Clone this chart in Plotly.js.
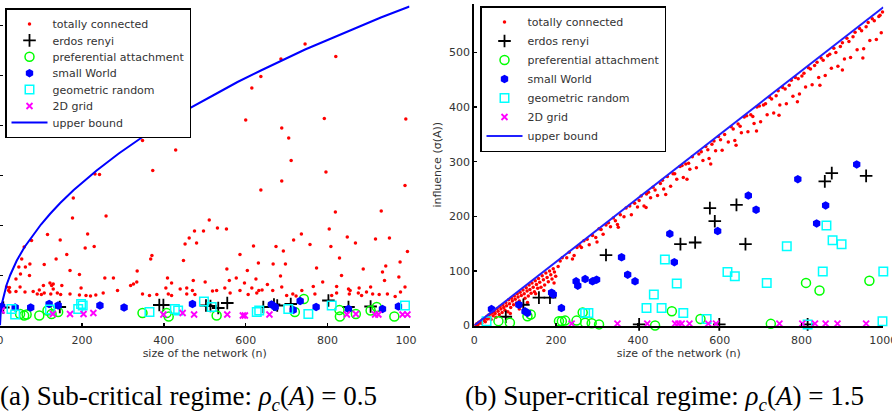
<!DOCTYPE html>
<html>
<head>
<meta charset="utf-8">
<script src="https://cdn.plot.ly/plotly-3.0.1.min.js"></script>
<style>
  html, body { margin: 0; padding: 0; background: #fff; overflow: hidden; }
  #fig { width: 892px; height: 413px; }
</style>
</head>
<body>
<div id="fig"></div>
<script>
// ---------- data ----------
const seriesNames = ['totally connected', 'erdos renyi', 'preferential attachment',
                     'small World', 'geometric random', '2D grid', 'upper bound'];
const xTickVals = [0, 200, 400, 600, 800, 1000];
const xTickText = ['0', '200', '400', '600', '800', '1000'];
const yTickValsSub = [0, 10, 20, 30, 40, 50, 60];
const yTickValsSuper = [0, 100, 200, 300, 400, 500];
const captionSub = '(a) Sub-critical regime: <i>ρ</i><sub><i>c</i></sub>(<i>A</i>) = 0.5';
const captionSuper = '(b) Super-critical regime: <i>ρ</i><sub><i>c</i></sub>(<i>A</i>) = 1.5';

// (a) sub-critical regime, [n, influence]
const subConnected = [
  [745,56.3],[820,53.8],[686,53.3],[637,49.8],[615,47.5],[600,41.1],[792,41.4],[991,41.3],[688,39.5],[705,37.5],
  [348,37],[429,35.1],[711,33],[373,31],[796,30.7],[232,30.3],[243,30.2],[688,28.9],[989,28],[637,27.1],
  [179,25.5],[259,21.9],[819,22.7],[931,22.9],[511,21.1],[177,21.5],[531,19.5],[553,19.3],[475,18.9],[497,18.9],
  [116,18.2],[214,18.3],[736,18.3],[804,19.3],[462,17.5],[147,17.1],[77,17],[848,17.7],[917,17.3],[951,17.5],
  [717,17.1],[868,16.5],[452,16.3],[480,16.5],[757,16.2],[619,15.9],[674,15.8],[808,15.8],[59,15.7],[208,15.5],
  [230,15.8],[692,14.9],[995,14.8],[371,14],[368,13.3],[586,14.2],[163,14.2],[137,13.3],[53,13.3],[73,12.3],
  [108,12.2],[46,11.7],[62,11.7],[448,13],[631,12.5],[667,12.3],[697,12.3],[829,13.5],[977,12.7],[942,11.9],
  [171,11],[335,10.9],[554,11.3],[604,11],[773,11.5],[887,11.3],[934,10.7],[194,10.2],[50,10.3],[72,10],
  [39,9.3],[256,9.5],[277,9.5],[409,9.5],[577,9.5],[625,9.3],[685,9.9],[834,10],[974,9.7],[122,8.5],
  [126,8],[151,8],[334,8.7],[419,8.5],[472,9],[501,8.7],[560,9],[597,8.5],[653,8.2],[788,8.7],
  [822,7.8],[939,9],[989,7.7],[319,8],[326,8.3],[16,7.7],[23,7.6],[96,7.1],[130,7.3],[198,7.5],
  [405,7.5],[456,7.5],[549,7.5],[615,7.5],[640,7.1],[688,7.7],[765,7.8],[877,7.5],[905,7.7],[21,7],
  [39,6.8],[61,6.7],[81,6.8],[91,6.3],[101,6.2],[108,6.5],[124,6.3],[140,6.5],[148,6.2],[171,6.3],
  [194,6.1],[210,6],[221,5.9],[234,6.1],[252,6.5],[348,6.3],[365,6],[383,6.2],[411,6.3],[419,6],
  [456,6.3],[470,7],[476,6.2],[519,6.9],[529,7],[562,6.5],[606,6.2],[627,6.5],[632,7],[666,7],
  [700,6],[715,6.3],[723,5.9],[769,6.3],[810,6],[853,6.3],[855,7],[875,6.5],[883,6],[910,6.3],
  [926,6.2],[946,6.3],[965,5.8],[978,6.7],[851,7.3],[440,7.3],[287,7],[106,8],[130,8.3],[586,7],
  [737,7],[822,6.5],[895,6.7],[24,6.7],[49,7.7]
];
const subErdos = [
  [8,3.6],[146,3.7],[389,4.1],[399,4.1],[503,4],[514,3.9],[533,3.5],[555,4.5],[643,3.7],[669,4.2],
  [677,4],[710,4.3],[802,5],[851,3.7],[905,3.8]
];
const subPreferential = [
  [59,2],[65,2.2],[49,2.3],[96,2],[116,3],[142,2.7],[126,2.3],[348,2.5],[407,2.5],[412,1.8],
  [529,2],[720,2.7],[742,5.3],[829,3.1],[830,1.8],[869,2.3],[905,3],[920,3.7],[963,1.8]
];
const subSmallWorld = [
  [4,3.8],[37,3.6],[75,3.6],[120,4.3],[142,4],[244,4],[303,3.6],[470,4.3],[663,4.2],[672,3.7],
  [716,3.1],[733,4.9],[772,3.7],[851,3.3],[934,3.3],[973,3.8]
];
const subGeometric = [
  [28,3.3],[37,2.2],[122,3.2],[198,4.3],[202,4],[191,3.3],[365,2.7],[427,3.3],[435,3],[498,4.8],
  [517,3.7],[627,2.7],[633,3],[704,3.3],[753,2.3],[810,4],[989,4]
];
const subGrid = [
  [4,3],[129,2.3],[171,2.3],[204,2.3],[228,2.5],[399,2.2],[446,2.5],[474,2.2],[555,2.2],[593,2],
  [598,2],[658,2.2],[847,2.2],[869,2.3],[916,2.2],[924,2.2],[983,2.2],[995,2.2]
];
const subBoundN = [0,2,5,10,16,25,41,60,81,100,122,147,180,236,290,348,400,457,520,580,637,700,745,800,870,930,1000];
const subBoundV = [0,2.9,4.5,6.4,8.1,10.1,13.0,15.7,18.2,20.2,22.3,24.5,27.1,31.0,34.4,37.7,40.4,43.2,46.0,48.7,51.0,53.5,55.2,57.1,59.6,61.6,63.8];

// (b) super-critical regime, [n, influence]
const superConnected = [
  [4,1],[6,3],[9,2],[11,6],[14,5],[16,8],[18,4],[20,11],[23,9],[25,13],[27,7],[30,16],[32,12],[34,19],
  [37,15],[39,21],[41,11],[44,24],[46,18],[49,27],[51,22],[53,15],[56,31],[58,26],[61,20],[63,35],[65,30],
  [68,24],[70,38],[72,33],[75,28],[77,42],[79,36],[82,25],[84,47],[86,40],[89,33],[91,50],[93,45],[96,38],
  [98,54],[100,48],[103,41],[105,58],[107,52],[110,45],[112,61],[115,55],[117,36],[119,65],[122,58],[124,50],
  [127,69],[129,63],[132,54],[134,74],[136,66],[139,59],[141,78],[144,70],[147,62],[149,82],[152,75],[155,68],
  [157,86],[160,79],[163,70],[166,91],[169,84],[172,74],[175,96],[178,88],[181,80],[184,100],[187,93],[190,85],
  [193,104],[196,98],[199,90],[88,22],[110,30],[130,42],[150,58],[170,64],[195,78],
  [210,118],[232,134],[251,143],[268,155],[289,165],[305,177],[322,184],[340,197],[357,203],[371,215],
  [392,224],[408,237],[421,241],[437,253],[455,260],[472,273],[486,278],[503,291],[517,296],[533,309],
  [549,314],[566,328],[581,332],[597,346],[612,350],[628,364],[645,369],[660,382],[676,386],[691,400],
  [707,404],[722,418],[738,421],[754,436],[770,440],[785,454],[801,457],[817,472],[832,476],[848,490],
  [864,494],[879,508],[895,511],[911,526],[926,529],[942,544],[958,547],[973,562],[989,566],[998,574],
  [205,108],[226,124],[244,128],[262,143],[281,148],[297,161],[315,167],[333,181],[350,185],[366,199],
  [384,203],[399,217],[415,219],[431,234],[448,238],[463,250],[480,255],[495,268],[511,271],[527,286],
  [543,289],[559,302],[574,306],[590,320],[606,321],[621,336],[637,339],[653,353],[669,355],[684,370],
  [700,373],[716,386],[732,389],[747,404],[763,406],[779,420],[795,424],[810,437],[826,441],[842,454],
  [858,458],[873,471],[889,475],[905,488],[920,491],[936,505],[952,507],[967,522],[983,524],[995,536],
  [215,124],[258,146],[276,158],[310,176],[328,188],[345,192],[380,219],[403,229],[426,244],[442,248],
  [460,266],[490,278],[508,293],[524,297],[555,318],[571,322],[586,338],[602,340],[633,360],[650,365],
  [666,384],[681,383],[697,402],[712,406],[727,415],[743,430],[760,433],[775,449],[792,452],[806,462],
  [822,470],[838,482],[853,486],[869,497],[884,500],[900,518],[916,520],[931,537],[947,540],[963,555],
  [978,558],[992,568],
  [240,122],[300,153],[352,180],[420,216],[468,240],[520,268],[578,296],[640,330],[690,356],[745,385],
  [790,410],[845,440],[900,468],[950,490]
];
const superErdos = [
  [77,16],[120,38],[158,51],[185,51],[322,129],[504,149],[540,152],[576,215],[588,191],[641,221],
  [663,149],[857,264],[874,279],[958,274],[403,2],[599,2],[815,2]
];
const superPreferential = [
  [59,8],[87,5],[130,17],[138,20],[207,8],[214,8],[222,9],[250,9],[265,24],[271,5],
  [287,4],[305,2],[442,0],[483,26],[553,12],[725,3],[811,78],[844,64],[966,82]
];
const superSmallWorld = [
  [42,30],[109,38],[124,26],[130,23],[189,60],[193,57],[213,32],[249,81],[253,73],[271,85],
  [289,81],[299,84],[360,125],[375,93],[393,81],[478,168],[489,116],[595,173],[670,238],[689,212],
  [791,268],[837,187],[859,220],[935,295]
];
const superGeometric = [
  [30,8],[271,23],[279,23],[421,32],[439,57],[458,32],[466,121],[495,77],[511,23],[568,12],
  [619,98],[637,90],[715,78],[764,145],[815,2],[852,99],[861,183],[876,156],[898,149],[1000,99],[998,8]
];
const superGrid = [
  [238,3.5],[350,3.5],[423,3.5],[491,3.5],[499,3.5],[507,3.5],[526,3.5],[572,3.5],[591,3.5],[746,3.5],
  [802,3.5],[833,3.5],[859,3.5],[888,3.5],[958,3.5]
];
const superBoundN = [0, 1000];
const superBoundV = [0, 583];

// ---------- styles ----------
const W = 892, H = 413;
const fx = p => p / W;          // page px -> paper x
const fy = p => 1 - p / H;      // page px -> paper y

const markerStyles = [
  { symbol: 'circle', size: 3.5, color: '#ff0000', line: { width: 0 } },
  { symbol: 'cross-thin-open', size: 9, color: '#000000', line: { width: 1.8, color: '#000000' } },
  { symbol: 'circle-open', size: 9, color: '#00ff00', line: { width: 1.5, color: '#00ff00' } },
  { symbol: 'hexagon', size: 8.5, color: '#0000ff', line: { width: 0 } },
  { symbol: 'square-open', size: 8.5, color: '#00ffff', line: { width: 1.5, color: '#00ffff' } },
  { symbol: 'x-thin-open', size: 6, color: '#ff00ff', line: { width: 1.8, color: '#ff00ff' } }
];

function scatterSeries(points, idx, xa, ya, legendId) {
  return {
    type: 'scatter', mode: 'markers', name: seriesNames[idx],
    x: points.map(p => p[0]), y: points.map(p => p[1]),
    xaxis: xa, yaxis: ya, legend: legendId,
    marker: markerStyles[idx], cliponaxis: false, hoverinfo: 'skip'
  };
}
function boundSeries(n, v, xa, ya, legendId, color) {
  return {
    type: 'scatter', mode: 'lines', name: seriesNames[6],
    x: n, y: v, xaxis: xa, yaxis: ya, legend: legendId,
    line: { color: color, width: 2 }, cliponaxis: false, hoverinfo: 'skip'
  };
}

const subSets = [subConnected, subErdos, subPreferential, subSmallWorld, subGeometric, subGrid];
const superSets = [superConnected, superErdos, superPreferential, superSmallWorld, superGeometric, superGrid];

const traces = [];
subSets.forEach((s, i) => traces.push(scatterSeries(s, i, 'x', 'y', 'legend')));
traces.push(boundSeries(subBoundN, subBoundV, 'x', 'y', 'legend', '#0000ff'));
superSets.forEach((s, i) => traces.push(scatterSeries(s, i, 'x2', 'y2', 'legend2')));
traces.push(boundSeries(superBoundN, superBoundV, 'x2', 'y2', 'legend2', '#2020ff'));

const tickFont = { family: 'DejaVu Sans', size: 11, color: '#333333' };
const axisCommon = {
  showline: true, linecolor: '#000000', linewidth: 2,
  ticks: 'inside', ticklen: 3, tickwidth: 1.5, tickcolor: '#000000',
  showgrid: false, zeroline: false, automargin: false, tickfont: tickFont,
  ticklabeloverflow: 'allow'
};
const plotTop = 4, plotBottom = 325.5;

const legendCommon = {
  xanchor: 'left', yanchor: 'top', bgcolor: '#ffffff',
  bordercolor: '#000000', borderwidth: 1.5, itemwidth: 36,
  font: { family: 'DejaVu Sans', size: 11, color: '#333333' },
  traceorder: 'normal', tracegroupgap: 0
};

const captionFont = { family: 'Liberation Serif', size: 27, color: '#000000' };

const layout = {
  width: W, height: H,
  margin: { l: 0, r: 0, t: 0, b: 0, pad: 0 },
  paper_bgcolor: '#ffffff', plot_bgcolor: '#ffffff',
  showlegend: true,
  xaxis: Object.assign({}, axisCommon, {
    domain: [fx(0), fx(409.5)], range: [0, 1000], anchor: 'y',
    tickvals: xTickVals, ticktext: xTickText, ticklabelstandoff: 3,
    title: { text: 'size of the network (n)', font: tickFont, standoff: 3 }
  }),
  yaxis: Object.assign({}, axisCommon, {
    domain: [fy(plotBottom), fy(plotTop)], range: [0, (plotBottom - plotTop) / 5], anchor: 'x',
    tickvals: yTickValsSub, showticklabels: false
  }),
  xaxis2: Object.assign({}, axisCommon, {
    domain: [fx(474.3), fx(883.3)], range: [0, 1000], anchor: 'y2',
    tickvals: xTickVals, ticktext: xTickText, ticklabelstandoff: 3,
    title: { text: 'size of the network (n)', font: tickFont, standoff: 3 }
  }),
  yaxis2: Object.assign({}, axisCommon, {
    domain: [fy(plotBottom), fy(plotTop)], range: [0, (plotBottom - plotTop) / 0.546], anchor: 'x2',
    tickvals: yTickValsSuper,
    title: { text: 'influence (σ(A))', font: tickFont, standoff: 5 }
  }),
  legend: Object.assign({}, legendCommon, { x: fx(5), y: fy(8) }),
  legend2: Object.assign({}, legendCommon, { x: fx(480), y: fy(6) }),
  shapes: [
    // panel (b) starts here and hides the last digit of panel (a)'s "1000"
    { type: 'rect', xref: 'paper', yref: 'paper', layer: 'above',
      x0: fx(417), x1: fx(436), y0: fy(348), y1: fy(330),
      fillcolor: '#ffffff', line: { width: 0 } }
  ],
  annotations: [
    { text: captionSub, xref: 'paper', yref: 'paper', x: fx(379), y: fy(398),
      xanchor: 'right', yanchor: 'middle', showarrow: false, font: captionFont },
    { text: captionSuper, xref: 'paper', yref: 'paper', x: fx(866), y: fy(398),
      xanchor: 'right', yanchor: 'middle', showarrow: false, font: captionFont }
  ]
};

// Plotly gives each legend row at least 19px; pack the rows tighter.
function tightenLegends(root, step) {
  root.querySelectorAll('g.legend').forEach(lg => {
    const items = lg.querySelectorAll('g.traces');
    let y0 = null, removed = 0;
    items.forEach((it, i) => {
      const m = /translate\(\s*([-\d.e]+)[\s,]+([-\d.e]+)\s*\)/.exec(it.getAttribute('transform') || '');
      if (!m) return;
      const x = +m[1], y = +m[2];
      if (y0 === null) y0 = y;
      const ny = y0 + i * step;
      removed = y - ny;
      it.setAttribute('transform', 'translate(' + x + ',' + ny + ')');
    });
    const bg = lg.querySelector('rect.bg');
    if (bg) bg.setAttribute('height', (+bg.getAttribute('height')) - removed);
  });
}

const gd = document.getElementById('fig');
Plotly.newPlot(gd, traces, layout, { staticPlot: true, displayModeBar: false })
  .then(() => tightenLegends(gd, 16.4));
</script>
</body>
</html>
